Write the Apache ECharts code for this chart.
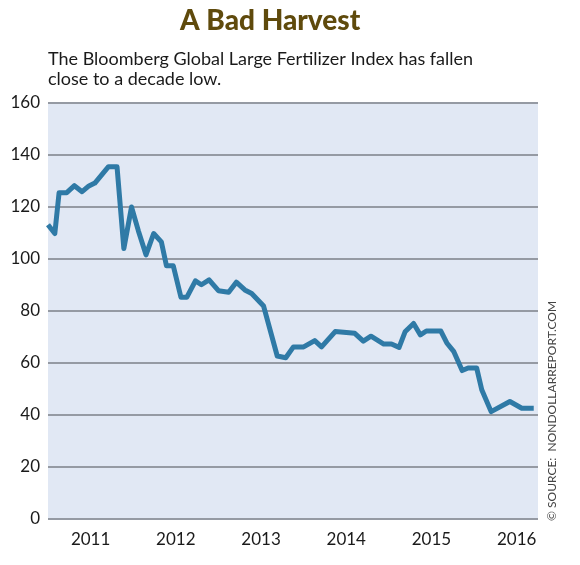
<!DOCTYPE html>
<html>
<head>
<meta charset="utf-8">
<script src="https://cdn.jsdelivr.net/npm/echarts@6/dist/echarts.min.js"></script>
<style>
  html, body { margin: 0; padding: 0; background: #ffffff; }
  #chart { width: 580px; height: 565px; }
</style>
</head>
<body>
<div id="chart"></div>
<script>
// Decimal-year positions of the line's vertices
const dates = [
  2010.50, 2010.58, 2010.63, 2010.72, 2010.81, 2010.90, 2010.98, 2011.05,
  2011.21, 2011.31, 2011.39, 2011.48, 2011.56, 2011.65, 2011.74, 2011.83,
  2011.89, 2011.97, 2012.06, 2012.13, 2012.23, 2012.30, 2012.39, 2012.50,
  2012.62, 2012.71, 2012.81, 2012.89, 2013.03, 2013.19, 2013.29, 2013.38,
  2013.50, 2013.63, 2013.71, 2013.87, 2014.10, 2014.20, 2014.29, 2014.44,
  2014.53, 2014.62, 2014.69, 2014.79, 2014.87, 2014.94, 2015.11, 2015.18,
  2015.26, 2015.36, 2015.43, 2015.53, 2015.59, 2015.70, 2015.92, 2016.06,
  2016.20
];
// Bloomberg Global Large Fertilizer Index values
const indexValues = [
  113.2, 109.8, 125.5, 125.5, 128.2, 125.9, 128.1, 129.2,
  135.5, 135.5, 104.0, 120.0, 110.9, 101.6, 109.8, 106.6,
  97.4, 97.4, 85.3, 85.3, 91.6, 90.1, 92.0, 87.8,
  87.2, 91.1, 88.1, 86.7, 81.9, 62.7, 62.0, 66.2,
  66.2, 68.6, 66.2, 72.1, 71.4, 68.4, 70.3, 67.3,
  67.3, 66.0, 72.0, 75.2, 70.8, 72.3, 72.3, 67.7,
  64.5, 57.1, 58.1, 58.1, 49.7, 41.3, 45.2, 42.6,
  42.6
];
const yearLabels = [2011, 2012, 2013, 2014, 2015, 2016];
const yTicks = [0, 20, 40, 60, 80, 100, 120, 140, 160];

const titleText = 'A Bad Harvest';
const subtitleLines = [
  'The Bloomberg Global Large Fertilizer Index has fallen',
  'close to a decade low.'
];
const sourceText = '© SOURCE:  NONDOLLARREPORT.COM';

const FONT = 'Lato, "Open Sans", "DejaVu Sans", sans-serif';

const chart = echarts.init(document.getElementById('chart'), null, { renderer: 'canvas' });

const seriesData = dates.map((d, i) => [d, indexValues[i]]);

chart.setOption({
  animation: false,
  backgroundColor: '#ffffff',
  grid: {
    left: 48, right: 42, top: 103, bottom: 46,
    show: true, backgroundColor: '#e1e8f4', borderWidth: 0
  },
  xAxis: {
    type: 'value',
    min: 2010.5,
    max: 2016.25,
    axisLine: { show: false },
    axisTick: { show: false },
    splitLine: { show: false },
    axisLabel: {
      customValues: yearLabels,
      formatter: v => String(Math.round(v)),
      fontFamily: FONT,
      fontSize: 17,
      color: '#1a1a1a',
      margin: 12
    }
  },
  yAxis: {
    type: 'value',
    min: yTicks[0],
    max: yTicks[yTicks.length - 1],
    interval: 20,
    axisLine: { show: false },
    axisTick: { show: false },
    splitLine: { show: true, lineStyle: { color: '#959aa3', width: 2 } },
    axisLabel: {
      fontFamily: FONT,
      fontSize: 17,
      color: '#1a1a1a',
      margin: 8
    }
  },
  series: [{
    type: 'line',
    data: seriesData,
    showSymbol: false,
    symbol: 'none',
    lineStyle: { color: '#2f7aa6', width: 5, join: 'round', cap: 'butt' },
    clip: true
  }],
  graphic: [
    {
      type: 'text',
      left: 180, top: 7,
      style: {
        text: titleText,
        font: '900 28px ' + FONT,
        fill: '#5f4a0c'
      }
    },
    {
      type: 'text',
      left: 48, top: 49,
      style: {
        text: subtitleLines.join('\n'),
        font: '18px ' + FONT,
        lineHeight: 20,
        fill: '#1a1a1a'
      }
    },
    {
      type: 'text',
      x: 552, y: 521,
      rotation: Math.PI / 2,
      style: {
        text: sourceText,
        font: '12px ' + FONT,
        fill: '#444444',
        textAlign: 'left',
        textVerticalAlign: 'middle'
      }
    }
  ]
});
</script>
</body>
</html>
